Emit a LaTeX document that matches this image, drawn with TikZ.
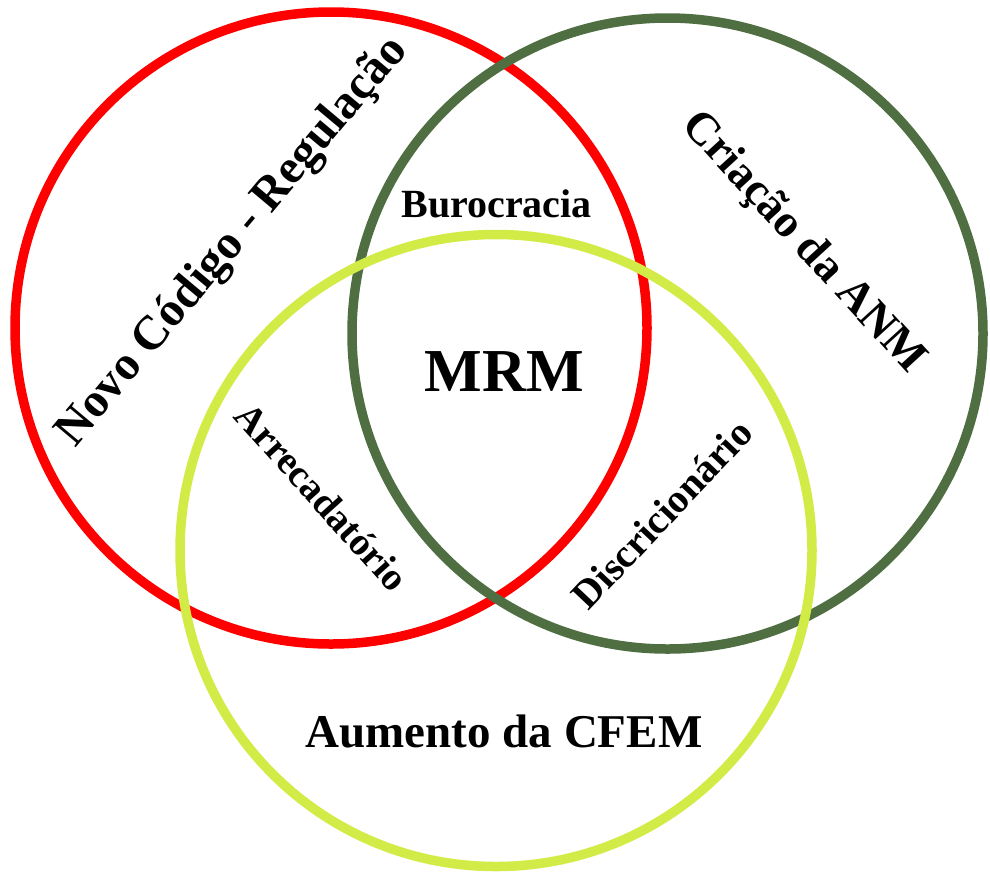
\documentclass[tikz,border=0pt]{standalone}
\usepackage{fontspec}
\setmainfont{Liberation Serif}
\definecolor{cRed}{HTML}{FF0000}
\definecolor{cDark}{HTML}{4F6F42}
\definecolor{cLight}{HTML}{D3EB47}
\begin{document}
\begin{tikzpicture}[x=1pt,y=-1pt,
  ring/.style={line width=9.5pt},
  lbl/.style={inner sep=0pt,font=\bfseries}]
\useasboundingbox (0,0) rectangle (990,879);
\draw[ring,cRed] (331,328) circle[radius=316];
\draw[ring,cDark] (667.5,333.5) circle[radius=315.5];
\draw[ring,cLight] (496,550.5) circle[radius=316];
\node[lbl,anchor=base,font=\bfseries\fontsize{40}{40}\selectfont] (buro) at (496.5,217) {Burocracia};
\node[lbl,anchor=base,font=\bfseries\fontsize{61}{61}\selectfont] (mrm) at (504.5,391) {MRM};
\node[lbl,anchor=base,font=\bfseries\fontsize{47}{47}\selectfont] (cfem) at (504,747) {Aumento da CFEM};
\node[lbl,rotate=50,font=\bfseries\fontsize{48}{48}\selectfont] (novo) at (233,242) {Novo Código - Regulação};
\node[lbl,rotate=-47.5,font=\bfseries\fontsize{46}{46}\selectfont] (anm) at (803,243) {Criação da ANM};
\node[lbl,rotate=-48,font=\bfseries\fontsize{39}{39}\selectfont] (arre) at (322,497) {Arrecadatório};
\node[lbl,rotate=46.6,font=\bfseries\fontsize{40}{40}\selectfont] (disc) at (662,514) {Discricionário};
\end{tikzpicture}
\end{document}
